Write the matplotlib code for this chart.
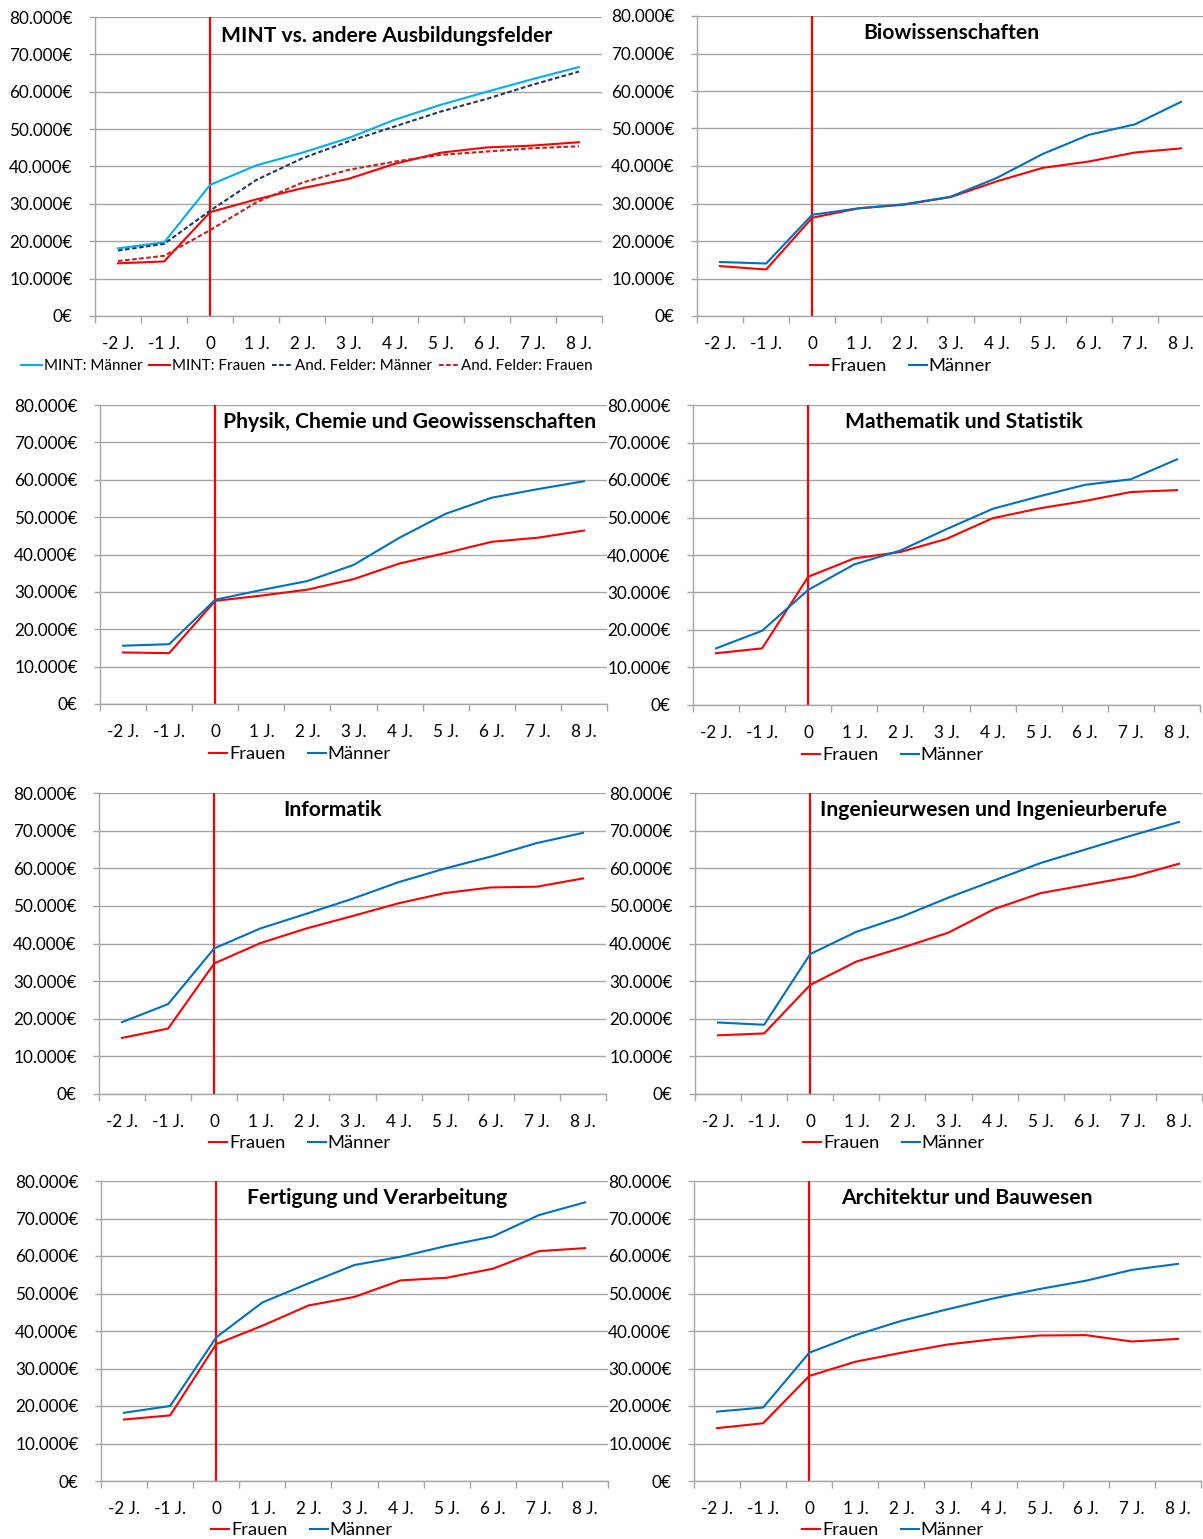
import matplotlib
matplotlib.use("Agg")
import matplotlib.pyplot as plt
from matplotlib.ticker import FixedLocator, FuncFormatter

plt.rcParams['font.family'] = ['Lato', 'DejaVu Sans']

# ---- data -------------------------------------------------------------
years = ["-2 J.", "-1 J.", "0", "1 J.", "2 J.", "3 J.", "4 J.", "5 J.", "6 J.", "7 J.", "8 J."]

mint_maenner = [18100, 19700, 35100, 40300, 43700, 47600, 52500, 56500, 60000, 63400, 66600]
mint_frauen = [14100, 14600, 27800, 31200, 34200, 36700, 40700, 43700, 45100, 45600, 46500]
andere_maenner = [17500, 19300, 28200, 36400, 42200, 46700, 50700, 54700, 58100, 61900, 65400]
andere_frauen = [14700, 16100, 23000, 30400, 35700, 39100, 41300, 43100, 44000, 44900, 45400]

bio_frauen = [13300, 12400, 26200, 28700, 29700, 31700, 35900, 39500, 41200, 43600, 44700]
bio_maenner = [14400, 14000, 27000, 28700, 29800, 31800, 36800, 43200, 48300, 51100, 57100]

phys_frauen = [13800, 13600, 27600, 29000, 30600, 33400, 37600, 40400, 43400, 44500, 46400]
phys_maenner = [15600, 16000, 27900, 30500, 32900, 37200, 44500, 50900, 55200, 57500, 59600]

mathe_frauen = [13800, 15100, 34200, 39100, 40800, 44300, 49800, 52400, 54400, 56800, 57300]
mathe_maenner = [15100, 19800, 30700, 37500, 41200, 46900, 52300, 55600, 58700, 60200, 65500]

info_frauen = [14900, 17400, 34700, 40100, 44000, 47300, 50700, 53400, 54900, 55100, 57300]
info_maenner = [19100, 23900, 38700, 44000, 47900, 51900, 56300, 59900, 63100, 66700, 69400]

ing_frauen = [15600, 16100, 29000, 35200, 38900, 42900, 49200, 53400, 55600, 57800, 61200]
ing_maenner = [19000, 18400, 37200, 43100, 47200, 52200, 56800, 61400, 65100, 68800, 72300]

fert_frauen = [16400, 17500, 36500, 41400, 46800, 49100, 53500, 54200, 56600, 61300, 62100]
fert_maenner = [18200, 20000, 38300, 47600, 52700, 57600, 59800, 62700, 65200, 70900, 74300]

arch_frauen = [14100, 15400, 28000, 31800, 34200, 36400, 37800, 38800, 38900, 37200, 37900]
arch_maenner = [18500, 19600, 34200, 38900, 42700, 45800, 48700, 51200, 53400, 56300, 57900]

y_ticks = [0, 10000, 20000, 30000, 40000, 50000, 60000, 70000, 80000]

# ---- styling ----------------------------------------------------------
W, H = 1203, 1539
RED = "#FF0000"
BLUE = "#0070C0"
CYAN = "#00B0F0"
NAVY = "#1F3864"
DARKRED = "#C81E1E"
GRID = "#A6A6A6"
TICK_FS = 12.3
LEG_FS = 13.2
TITLE_FS = 15.2

fig = plt.figure(figsize=(W / 100, H / 100), dpi=100)
fig.patch.set_facecolor("white")


def euro(v, _pos):
    return "{:,.0f}€".format(v).replace(",", ".")


def panel(x0, x1, ytop, ybot):
    ax = fig.add_axes([x0 / W, 1 - ybot / H, (x1 - x0) / W, (ybot - ytop) / H])
    ax.set_facecolor("none")
    n = len(years)
    ax.set_xlim(-0.5, n - 0.5)
    ax.set_ylim(0, 80000)
    for s in ("top", "right"):
        ax.spines[s].set_visible(False)
    for s in ("left", "bottom"):
        ax.spines[s].set_color(GRID)
        ax.spines[s].set_linewidth(1.0)
    ax.yaxis.set_major_locator(FixedLocator(y_ticks))
    ax.yaxis.set_major_formatter(FuncFormatter(euro))
    ax.grid(axis="y", color=GRID, linewidth=1.0)
    ax.tick_params(axis="y", length=4, width=1.0, color=GRID, pad=12,
                   labelsize=TICK_FS, labelcolor="black")
    ax.set_xticks(range(n))
    ax.set_xticklabels(years)
    ax.set_xticks([i - 0.5 for i in range(n + 1)], minor=True)
    ax.tick_params(axis="x", which="major", length=0, pad=14.5,
                   labelsize=TICK_FS, labelcolor="black")
    ax.tick_params(axis="x", which="minor", length=5, width=1.0, color=GRID)
    ax.set_axisbelow(True)
    return ax


def start_line(ax):
    ax.axvline(years.index("0"), color=RED, linewidth=1.6, zorder=1.5)


def title(text, cx, cy):
    fig.text(cx / W, 1 - cy / H, text, ha="center", va="center",
             fontsize=TITLE_FS, fontweight="bold", color="black")


def legend(ax, handles, labels, cx, cy, fs=LEG_FS, spacing=1.2, hl=1.0):
    ax.legend(handles, labels, loc="center", bbox_to_anchor=(cx / W, 1 - cy / H),
              bbox_transform=fig.transFigure, ncol=len(handles), frameon=False,
              fontsize=fs, handlelength=hl, handletextpad=0.1,
              columnspacing=spacing, borderpad=0, borderaxespad=0)


def two_series(geom, frauen, maenner, name, tpos, lpos):
    ax = panel(*geom)
    x = range(len(years))
    start_line(ax)
    lf, = ax.plot(x, frauen, color=RED, linewidth=1.5, label="Frauen")
    lm, = ax.plot(x, maenner, color=BLUE, linewidth=1.5, label="Männer")
    title(name, *tpos)
    legend(ax, [lf, lm], ["Frauen", "Männer"], *lpos)
    return ax


# ---- MINT overview ----------------------------------------------------
ax = panel(95, 602, 17, 316)
x = range(len(years))
start_line(ax)
h1, = ax.plot(x, mint_maenner, color=CYAN, linewidth=1.5)
h2, = ax.plot(x, mint_frauen, color=RED, linewidth=1.5)
h3, = ax.plot(x, andere_maenner, color=NAVY, linewidth=1.5, dashes=(2.2, 1.2))
h4, = ax.plot(x, andere_frauen, color=DARKRED, linewidth=1.5, dashes=(2.2, 1.2))
title("MINT vs. andere Ausbildungsfelder", 387, 36)
legend(ax, [h1, h2, h3, h4],
       ["MINT: Männer", "MINT: Frauen", "And. Felder: Männer", "And. Felder: Frauen"],
       307, 366, fs=10.9, spacing=0.45, hl=1.4)

# ---- fields ------------------------------------------------------------
two_series((697, 1204, 16, 316), bio_frauen, bio_maenner,
           "Biowissenschaften", (951, 33), (901, 366))
two_series((100, 607, 405, 704), phys_frauen, phys_maenner,
           "Physik, Chemie und Geowissenschaften", (410, 422), (300, 754))
two_series((693, 1200, 405, 705), mathe_frauen, mathe_maenner,
           "Mathematik und Statistik", (964, 422), (893, 755))
two_series((99, 606, 793, 1094), info_frauen, info_maenner,
           "Informatik", (333, 810), (300, 1143))
two_series((695, 1202, 793, 1094), ing_frauen, ing_maenner,
           "Ingenieurwesen und Ingenieurberufe", (993, 810), (894, 1143))
two_series((101, 608, 1181, 1481), fert_frauen, fert_maenner,
           "Fertigung und Verarbeitung", (377, 1198), (302, 1530))
two_series((694, 1201, 1181, 1481), arch_frauen, arch_maenner,
           "Architektur und Bauwesen", (967, 1198), (893, 1530))

fig.savefig("out.png", dpi=100, facecolor="white")
